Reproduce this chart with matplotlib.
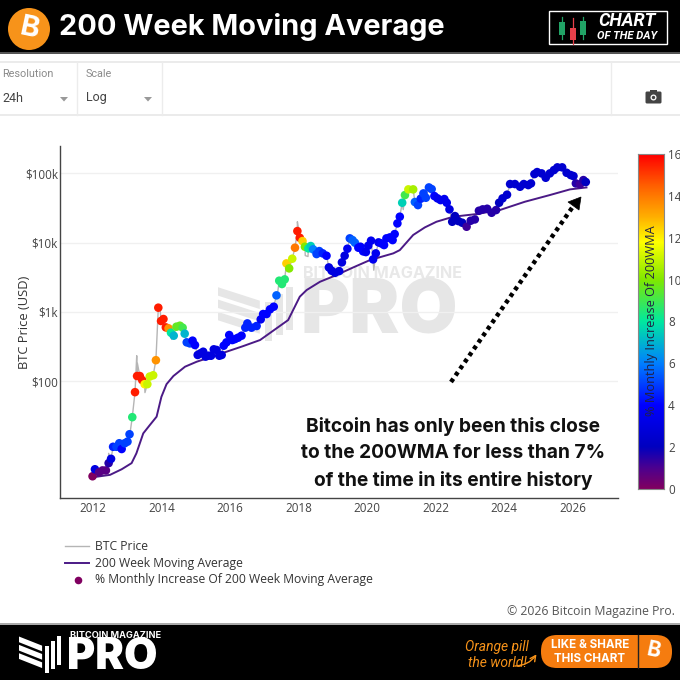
import numpy as np
import matplotlib
matplotlib.use("Agg")
import matplotlib.pyplot as plt
from matplotlib.colors import LinearSegmentedColormap
from matplotlib.patches import Rectangle, Circle, Polygon, FancyBboxPatch

point_years = [2011.99,2012.06,2012.18,2012.28,2012.38,2012.46,2012.53,2012.59,2012.69,2012.77,2012.84,2012.93,2013.01,2013.07,2013.15,2013.23,2013.29,2013.37,2013.44,2013.51,2013.59,2013.66,2013.76,2013.84,2013.91,2013.99,2014.06,2014.13,2014.21,2014.28,2014.36,2014.44,2014.54,2014.62,2014.68,2014.74,2014.83,2014.91,2014.98,2015.06,2015.14,2015.22,2015.29,2015.37,2015.45,2015.53,2015.61,2015.69,2015.76,2015.82,2015.90,2015.98,2016.07,2016.15,2016.24,2016.34,2016.45,2016.51,2016.63,2016.78,
 2016.90,2016.97,2017.07,2017.17,2017.28,2017.36,2017.44,2017.52,2017.60,2017.65,2017.73,2017.82,2017.90,2017.97,2018.04,2018.12,2018.19,2018.29,2018.36,2018.43,2018.53,2018.61,2018.71,2018.82,2018.89,2018.97,2019.07,2019.19,2019.27,2019.35,2019.43,2019.50,2019.58,2019.65,2019.75,2019.81,2019.89,2019.97,2020.04,2020.12,2020.18,2020.26,2020.34,2020.42,2020.50,2020.57,2020.67,2020.75,2020.81,2020.89,2020.96,
 2021.03,2021.11,2021.21,2021.35,2021.40,2021.49,2021.57,2021.65,2021.72,2021.81,2021.89,2021.97,2022.06,2022.15,2022.26,2022.33,2022.41,2022.49,2022.57,2022.67,2022.78,2022.91,2023.03,2023.15,2023.27,2023.38,2023.51,2023.64,2023.77,2023.86,2023.96,2024.09,2024.18,2024.32,2024.47,2024.58,2024.71,2024.79,2024.89,2024.97,2025.10,2025.22,2025.34,2025.46,2025.56,2025.70,2025.83,2025.95,2026.03,2026.10,2026.22,2026.32,2026.39]
point_prices = [4.2,5.3,4.8,5.1,5.1,6.5,7.5,11.2,11.2,12.6,10.4,12.6,13.3,17,30,69,118,118,103,90,90,116,121,200,1148,737,787,596,577,499,452,610,630,590,483,362,350,383,331,238,251,265,225,232,232,287,281,232,238,324,362,462,391,404,423,452,590,680,590,624,
 778,929,929,1086,1186,1730,2818,2523,2944,5012,4246,5861,8450,14690,11770,10540,8730,8260,8930,8000,6840,7550,7000,6470,4385,3926,3670,3880,5190,6470,8170,11530,10890,9980,8450,8730,7480,7310,9040,10670,5730,7000,10090,9750,9230,11530,11910,10890,13300,18970,23710,
 37760,48750,58880,58880,38640,34910,43150,51520,44570,62810,59430,47100,43650,41210,42660,37760,30270,20050,24210,20510,19410,16980,20750,21670,28910,30270,30900,27040,29580,37760,43650,49320,70310,70310,64270,70310,67920,71780,97950,104700,100200,86700,100200,111900,122500,122500,102300,94800,91700,71780,69500,80200,75200]
monthly_increase = [0,3,0.8,0.8,0.8,1.5,3,4.5,5,5,4,5,5,5,8.5,15.5,15.5,15.5,15.5,12,11,11,11,13.5,15.5,15.5,15.5,15.5,13.5,8,7,9.5,9.5,9,7,5,5,4,4,3,3,3,3,3,3,3,3,3,3,4,4,4,4,4,4,4,4.5,4.5,4.5,4.5,
 3.5,4,4,4,4,5.5,8.5,8.5,8.5,12.5,10,11,14,15.5,15.5,12.5,10,8,7.5,6,5,5,4.5,4,3,3,3,3,3,3,3.5,5,5.5,5.5,4,4,4,3.5,3.5,3.5,3.5,3.5,3.5,4,4,4,4,4,4,4,4,
 7.5,9,11,10.5,5.5,5,4.5,5,5,5,5,4,3.5,3.5,3.5,3.5,3,2,2,2,2,1.2,1.5,1.5,1.5,1.5,1.5,1.5,1.5,2,2.5,2.5,2.5,2.5,2.5,2.5,2.5,2.5,2.5,2.5,2.5,2.5,2.5,2.5,2.5,2.5,2.5,2.5,2.5,1.5,1.2,1.5,2]
spike_years = [2012.46,2013.10,2013.28,2013.30,2013.52,2013.96,2014.30,2017.40,2017.97,2018.20,2018.28,2020.20,2021.06]
spike_prices = [9,20,232,180,68,1150,400,2000,20050,6500,6300,4000,30000]
wma_years = [2012.06,2012.50,2012.84,2013.13,2013.27,2013.47,2013.66,2013.86,2014.00,2014.15,2014.35,2014.69,2015.03,2015.42,2015.90,2016.39,2016.88,2017.70,2018.04,2018.24,2018.63,2019.11,2019.60,2020.09,2020.77,2020.96,2021.35,2021.69,2022.03,2022.52,2023.20,2023.88,2024.61,2025.34,2025.93,2026.41]
wma_values = [4.1,4.4,5.3,6.5,9.0,17.5,23,30.5,59,90,118,161,190,220,265,320,391,760,1655,2065,2720,3400,4385,5600,7000,7800,12900,16600,20050,23700,25900,29600,39000,48750,58900,62800]
year_ticks = [2012,2014,2016,2018,2020,2022,2024,2026]
price_ticks = [100,1000,10000,100000]
price_labels = ["$100","$1k","$10k","$100k"]
colorbar_ticks = [0,2,4,6,8,10,12,14,16]
annotation_lines = ["Bitcoin has only been this close","to the 200WMA for less than 7%","of the time in its entire history"]

F = "Open Sans"
I = "Inter"
plt.rcParams["font.family"] = [F, "DejaVu Sans"]
cmap = LinearSegmentedColormap.from_list("m", [(0,"#800060"),(1/16,"#4b0090"),(2/16,"#0000c0"),(4/16,"#0000ff"),(6/16,"#0080ff"),(8/16,"#00e8a0"),(10/16,"#80e800"),(11.8/16,"#ffff00"),(13/16,"#ffb000"),(14.5/16,"#ff6000"),(1,"#ff0000")])

fig = plt.figure(figsize=(6.8,6.8), dpi=100, facecolor="white")
def px_axes(l,t,r,b,z):
    return fig.add_axes([l/680,1-b/680,(r-l)/680,(b-t)/680],zorder=z)

bg = px_axes(0,0,680,680,0); bg.set_xlim(0,680); bg.set_ylim(680,0); bg.axis("off")
fg = px_axes(0,0,680,680,5); fg.set_xlim(0,680); fg.set_ylim(680,0); fg.axis("off"); fg.patch.set_alpha(0)

def logo(a,x,y,w,h,c,z=1):
    for i in range(3):
        yy = y+h*(0.04+0.22*i)
        a.add_patch(Polygon([(x,yy),(x+w*0.55,yy+h*0.24),(x+w*0.55,yy+h*0.39),(x,yy+h*0.15)],fc=c,ec="none",zorder=z))
    for i,(bt,bb) in enumerate([(0.3,1.0),(0.16,0.9),(0.03,0.8)]):
        bx = x+w*(0.62+0.14*i)
        a.add_patch(Rectangle((bx,y+h*bt),w*0.09,h*(bb-bt),fc=c,ec="none",zorder=z))

# header
bg.add_patch(Rectangle((0,0),680,52,fc="black",ec="none"))
bg.add_patch(Rectangle((0,52),680,1.5,fc="#555555",ec="none"))
bg.add_patch(Circle((29,29),21,fc="#f7931a",ec="none",zorder=2))
bg.text(29,29,"B",color="white",fontsize=21,fontweight="bold",family=I,ha="center",va="center",rotation=-12,zorder=3)
bg.text(59,27,"200 Week Moving Average",color="white",fontsize=20.8,fontweight="bold",family=I,ha="left",va="center",zorder=3)
bg.add_patch(Rectangle((549,11),118,33,fc="black",ec="white",lw=1,zorder=2))
for x,t,b,c,wt,wb in [(562,22,35,"#21a366",17,39),(573,28,40,"#e8404a",18,44),(583,21,35,"#21a366",17,39)]:
    bg.plot([x,x],[wt,wb],color=c,lw=0.9,zorder=3)
    bg.add_patch(Rectangle((x-3,t),6,b-t,fc=c,ec="none",zorder=4))
bg.text(627,21,"CHART",color="white",fontsize=13,fontweight="bold",style="italic",family="Roboto",ha="center",va="center",zorder=3)
bg.text(627,36,"OF THE DAY",color="white",fontsize=8,fontweight="bold",style="italic",family="Roboto",ha="center",va="center",zorder=3)

# toolbar
for yy in (62,115):
    bg.plot([0,680],[yy,yy],color="#e8e8e8",lw=1.2)
for xx in (77,162,611):
    bg.plot([xx,xx],[62,115],color="#ececec",lw=1)
for x,lab,val,tx in [(2,"Resolution","24h",64),(86,"Scale","Log",148)]:
    bg.text(x,74,lab,color="#8a8a8a",fontsize=7.8,family="Roboto",ha="left",va="center")
    bg.text(x,98,val,color="#444444",fontsize=9,family="Roboto",ha="left",va="center")
    bg.add_patch(Polygon([(tx-4,97),(tx+4,97),(tx,101.5)],fc="#999999",ec="none"))
bg.add_patch(FancyBboxPatch((646,92),15,11,boxstyle="round,pad=0.5,rounding_size=1.5",fc="#444444",ec="none"))
bg.add_patch(Rectangle((650,89.5),7,3,fc="#444444",ec="none"))
bg.add_patch(Circle((653.5,97.5),3,fc="white",ec="none",zorder=3))
bg.add_patch(Circle((653.5,97.5),1.7,fc="#444444",ec="none",zorder=4))

# watermark
logo(bg,218,285,76,56,"#e6e6e6")
bg.text(303,274,"BITCOIN MAGAZINE",color="#e8e8e8",fontsize=11.6,fontweight="bold",family=I,ha="left",va="center")
bg.text(301,313.5,"PRO",color="#e6e6e6",fontsize=54,fontweight="black",family=I,ha="left",va="center")

# main chart
ax = px_axes(60,146,618,498,2)
ax.patch.set_alpha(0)
ax.set_yscale("log")
ax.set_xlim(2011.04,2027.33)
ax.set_ylim(10**0.309,10**5.397)
gy = np.array(point_years+spike_years); gp = np.array(point_prices+spike_prices)
o = np.argsort(gy)
ax.plot(gy[o],gp[o],color="#b5b5b5",lw=1,zorder=2)
ax.plot(wma_years,wma_values,color="#4b1a86",lw=1.4,zorder=3)
ax.scatter(point_years,point_prices,c=monthly_increase,cmap=cmap,vmin=0,vmax=16,s=38,linewidths=0,zorder=4)
ax.set_xticks(year_ticks); ax.set_xticklabels([str(y) for y in year_ticks])
ax.set_yticks(price_ticks); ax.set_yticklabels(price_labels)
ax.minorticks_off()
ax.grid(axis="y",color="#f0f0f0",lw=1)
ax.set_axisbelow(True)
ax.tick_params(axis="both",length=0,labelsize=8.4,labelcolor="#444444",pad=1.5)
ax.tick_params(axis="x",pad=3)
for s in ("top","right"): ax.spines[s].set_visible(False)
ax.spines["left"].set_color("#444444"); ax.spines["bottom"].set_color("#444444")
ax.spines["left"].set_linewidth(1); ax.spines["bottom"].set_linewidth(1)
fg.text(25,322,"BTC Price (USD)",rotation=90,fontsize=9.3,color="#333333",ha="center",va="center")

# colour bar
cax = px_axes(638,154,664,489,3)
cax.imshow(np.linspace(16,0,256).reshape(-1,1),cmap=cmap,aspect="auto",extent=[0,1,0,16],vmin=0,vmax=16)
cax.set_xticks([]); cax.yaxis.tick_right(); cax.set_yticks(colorbar_ticks)
cax.tick_params(axis="y",length=0,labelsize=8.4,labelcolor="#444444",pad=3)
for s in cax.spines.values(): s.set_color("#888888"); s.set_linewidth(0.8)
fg.text(652,321,"% Monthly Increase Of 200WMA",rotation=90,ha="center",va="center",fontsize=9.2,color="#222244")

# annotation
dots_x = (451,574); dots_y = (382,205)
fg.plot(dots_x,dots_y,color="black",lw=3.2,linestyle=(0,(0.9,0.9)))
fg.add_patch(Polygon([(581,197),(568,202),(579,210)],fc="black",ec="black",lw=0.5))
for yy,t in zip((426,453,480),annotation_lines):
    fg.text(453,yy,t,color="#111111",fontsize=13.8,fontweight="bold",family=I,ha="center",va="center")

# legend
fg.plot([65,89],[546,546],color="#b5b5b5",lw=1)
fg.plot([65,89],[563,563],color="#4b1a86",lw=1.4)
fg.scatter([78],[580],c=[0],cmap=cmap,vmin=0,vmax=16,s=30,linewidths=0)
for yy,t in zip((546,563,580),["BTC Price","200 Week Moving Average","% Monthly Increase Of 200 Week Moving Average"]):
    fg.text(95,yy,t,color="#333333",fontsize=8.7,ha="left",va="center")
fg.text(675,611,"\u00a9 2026 Bitcoin Magazine Pro.",color="#555555",fontsize=8.8,ha="right",va="center")

# footer
bg.add_patch(Rectangle((0,623),680,2,fc="#aaaaaa",ec="none"))
bg.add_patch(Rectangle((0,625),680,55,fc="black",ec="none",zorder=1))
logo(bg,19,635,42,38,"white",z=2)
bg.text(70,636,"BITCOIN MAGAZINE",color="white",fontsize=6.6,fontweight="bold",family=I,ha="left",va="center",zorder=2)
bg.text(67,657.5,"PRO",color="white",fontsize=31,fontweight="black",family=I,ha="left",va="center",zorder=2)
bg.text(497,647,"Orange pill",color="#f7931a",fontsize=10,style="italic",family="Roboto",ha="center",va="center",zorder=2)
bg.text(497,663,"the world!",color="#f7931a",fontsize=10,style="italic",family="Roboto",ha="center",va="center",zorder=2)
bg.annotate("",xy=(538,652),xytext=(512,666),arrowprops=dict(arrowstyle="->",color="#f7931a",lw=1,connectionstyle="arc3,rad=0.3"),zorder=2)
bg.add_patch(FancyBboxPatch((541,635),131,33,boxstyle="round,pad=0,rounding_size=16",fc="#f57c0f",ec="none",zorder=2))
bg.plot([637.5,637.5],[635,668],color="#222222",lw=1,zorder=3)
bg.text(590,644.5,"LIKE & SHARE",color="white",fontsize=8.4,fontweight="bold",family=I,ha="center",va="center",zorder=3)
bg.text(590,659,"THIS CHART",color="white",fontsize=8.4,fontweight="bold",family=I,ha="center",va="center",zorder=3)
bg.text(654,651,"B",color="white",fontsize=15,fontweight="bold",family=I,ha="center",va="center",rotation=-12,zorder=3)

fig.savefig("out.png",dpi=100)
